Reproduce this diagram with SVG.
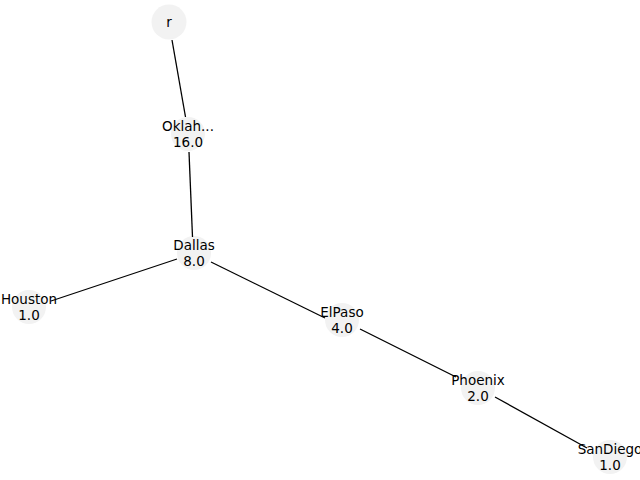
<svg xmlns="http://www.w3.org/2000/svg" width="640" height="480" viewBox="0 0 640 480">
<style>
.bg{fill:#ffffff}
.n circle{fill:#f2f2f2;stroke:none}
.n text{font-family:"DejaVu Sans",sans-serif;font-size:13.5px;fill:#000000;text-anchor:middle}
.e line{stroke:#000000;stroke-width:1.3;fill:none}
</style>
<rect class="bg" x="0" y="0" width="640" height="480"/>
<g id="n-r" class="n"><circle cx="169" cy="22" r="17.5"/><text x="169" y="27">r</text></g>
<g id="n-oklah" class="n"><circle cx="188" cy="134" r="17"/><text x="188" y="131">Oklah...</text><text x="188" y="147">16.0</text></g>
<g id="n-dallas" class="n"><circle cx="194" cy="253" r="17"/><text x="194" y="250">Dallas</text><text x="194" y="266">8.0</text></g>
<g id="n-houston" class="n"><circle cx="29" cy="307" r="17"/><text x="29" y="304">Houston</text><text x="29" y="320">1.0</text></g>
<g id="n-elpaso" class="n"><circle cx="342" cy="320" r="17"/><text x="342" y="317">ElPaso</text><text x="342" y="333">4.0</text></g>
<g id="n-phoenix" class="n"><circle cx="478" cy="388" r="17"/><text x="478" y="385">Phoenix</text><text x="478" y="401">2.0</text></g>
<g id="n-sandiego" class="n"><circle cx="610" cy="457" r="17"/><text x="610" y="454">SanDiego</text><text x="610" y="470">1.0</text></g>
<g id="edges" class="e">
<line x1="172" y1="40" x2="185.5" y2="117"/>
<line x1="189" y1="152" x2="192.5" y2="237"/>
<line x1="211" y1="262" x2="325" y2="318"/>
<line x1="177" y1="259" x2="51" y2="301"/>
<line x1="360" y1="329" x2="456" y2="377"/>
<line x1="495" y1="397" x2="587" y2="448"/>
</g>
</svg>
